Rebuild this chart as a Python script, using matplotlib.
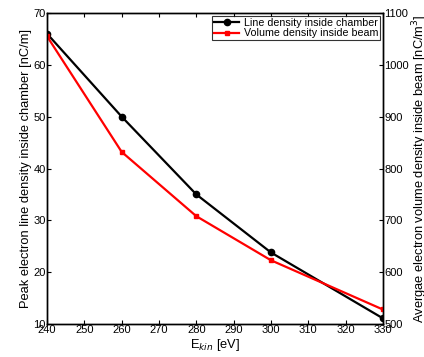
import matplotlib
matplotlib.use("Agg")
import matplotlib.pyplot as plt

plt.rcParams['font.family'] = ['Liberation Sans', 'DejaVu Sans']
plt.rcParams['font.size'] = 8

energy = [240, 260, 280, 300, 330]
line_density = [66, 50, 35, 23.8, 11.1]
volume_density = [1055, 832, 708, 623, 528]

xticks = [240, 250, 260, 270, 280, 290, 300, 310, 320, 330]
left_ticks = [10, 20, 30, 40, 50, 60, 70]
right_ticks = [500, 600, 700, 800, 900, 1000, 1100]

fig = plt.figure(figsize=(4.24, 3.57), dpi=100)
ax = fig.add_axes([0.111, 0.0924, 0.792, 0.8712])
ax2 = ax.twinx()

l1, = ax.plot(energy, line_density, color='black', lw=1.6, marker='o', ms=4.5,
              label='Line density inside chamber')
l2, = ax2.plot(energy, volume_density, color='red', lw=1.6, marker='s', ms=2.5,
               label='Volume density inside beam')

ax.set_xlim(240, 330)
ax.set_ylim(10, 70)
ax2.set_ylim(500, 1100)
ax.set_xticks(xticks)
ax.set_yticks(left_ticks)
ax2.set_yticks(right_ticks)

ax.tick_params(direction='in', length=3, top=True, right=False, pad=1, labelsize=8)
ax2.tick_params(direction='in', length=3, pad=1, labelsize=8)
for a in (ax, ax2):
    for s in a.spines.values():
        s.set_linewidth(1.0)

ax.set_xlabel('E$_{kin}$ [eV]', fontsize=9.3, labelpad=1)
ax.set_ylabel('Peak electron line density inside chamber [nC/m]', fontsize=9.3, labelpad=1)
ax2.set_ylabel('Avergae electron volume density inside beam [nC/m$^3$]', fontsize=9.3, labelpad=1)

leg = ax2.legend(handles=[l1, l2], loc='upper right', fontsize=7.7, frameon=True,
                 fancybox=False, edgecolor='black', borderpad=0.15, labelspacing=0.05,
                 handlelength=2.4, handletextpad=0.4, borderaxespad=0.3)
leg.get_frame().set_linewidth(0.8)

fig.savefig('out.png', dpi=100)
